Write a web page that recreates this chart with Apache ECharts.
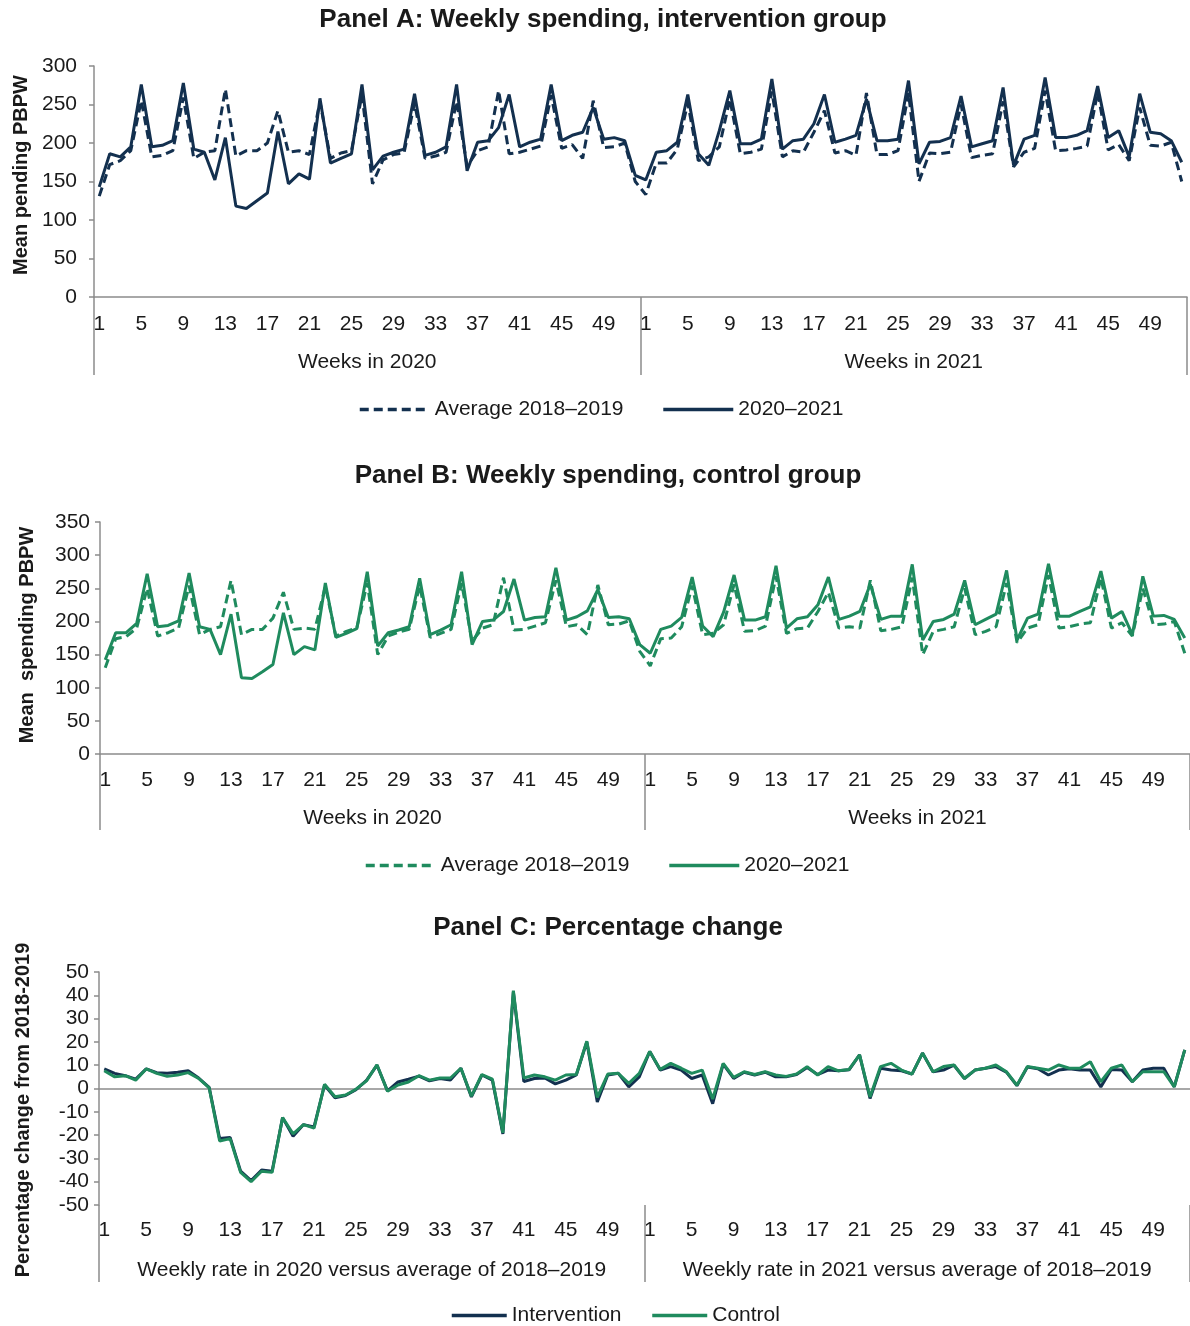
<!DOCTYPE html>
<html>
<head>
<meta charset="utf-8">
<script src="https://cdn.jsdelivr.net/npm/echarts@6/dist/echarts.min.js"></script>
<style>
html,body{margin:0;padding:0;background:#ffffff;}
#chart{width:1190px;height:1326px;}
</style>
</head>
<body>
<div id="chart"></div>
<script>
// ---------- tick labels / categories ----------
const weeksOfYear = ['1','2','3','4','5','6','7','8','9','10','11','12','13','14','15','16','17','18','19','20',
  '21','22','23','24','25','26','27','28','29','30','31','32','33','34','35','36','37','38','39','40',
  '41','42','43','44','45','46','47','48','49','50','51','52'];
const weekCategories = weeksOfYear.concat(weeksOfYear); // 2020 then 2021
const yearGroupsAB = ['Weeks in 2020', 'Weeks in 2021'];
const yearGroupsC = ['Weekly rate in 2020 versus average of 2018\u20132019', 'Weekly rate in 2021 versus average of 2018\u20132019'];

const panelTitles = ['Panel A: Weekly spending, intervention group', 'Panel B: Weekly spending, control group', 'Panel C: Percentage change'];

// ---------- Panel A: intervention group (mean spending PBPW) ----------
const avgA = [131,172,177,190,255,182,184,190,259,180,
  188,190,270,183,190,190,200,242,188,190,
  185,254,180,187,190,263,147,178,185,187,
  252,180,183,188,254,170,190,195,268,186,
  188,192,196,262,193,198,180,255,194,195,
  200,150,
  133,174,174,192,252,177,182,195,257,186,
  188,192,267,182,190,188,214,242,187,190,
  184,265,185,185,190,265,150,187,186,188,
  250,181,184,186,254,169,188,193,268,190,
  191,193,196,266,191,198,177,246,197,196,
  201,150];
const actualA = [143,186,182,195,276,195,197,203,278,192,
  188,152,207,118,115,125,135,215,147,160,
  153,258,174,180,186,276,165,183,188,192,
  264,184,188,195,276,164,201,203,220,263,
  195,201,205,276,203,210,214,246,205,207,
  203,158,
  152,188,190,201,263,186,171,216,268,199,
  199,205,283,192,203,205,225,263,201,205,
  210,257,203,203,205,281,173,201,202,207,
  261,195,199,203,272,171,205,210,285,207,
  207,210,216,274,207,216,182,264,214,212,
  203,175];

// ---------- Panel B: control group ----------
const avgB = [130,174,177,190,250,178,183,190,254,180,
  188,192,262,180,188,188,205,244,188,190,
  188,253,178,185,190,258,150,178,184,188,
  254,176,182,188,258,170,190,195,266,187,
  188,193,198,262,192,195,180,255,195,196,
  201,155,
  133,174,175,192,254,180,182,195,256,185,
  186,193,268,182,189,190,215,244,190,192,
  190,262,186,188,192,266,150,185,188,192,
  250,180,185,192,258,168,190,195,270,190,
  192,196,198,266,190,198,178,250,195,196,
  200,152];
const actualB = [142,183,183,197,272,192,194,201,273,192,
  188,150,211,115,114,124,135,213,150,162,
  157,258,176,182,189,275,163,183,187,192,
  265,180,187,195,275,165,200,202,215,264,
  202,206,207,281,202,207,216,248,206,207,
  204,165,
  152,188,193,206,267,193,177,214,270,202,
  202,207,284,190,204,207,225,267,203,208,
  215,256,203,208,208,286,172,200,203,211,
  262,195,203,211,277,172,205,211,287,208,
  208,215,222,276,205,215,180,268,208,209,
  203,175];

// ---------- Panel C: percentage change from 2018-2019 ----------
const pctIntervention = [8.4,6.5,5.5,4,8.4,6.8,6.5,7,7.6,4.5,
  0.5,-21.5,-21,-35.5,-39.5,-35,-35.5,-12.5,-20.5,-15.5,
  -16.5,1.5,-4,-3,-0.5,3.5,10,-1,2.8,4,
  5.3,3.3,4.3,3.6,8.7,-3.6,5.8,3.6,-19.5,41.5,
  3,4.3,4.5,2,3.6,5.8,20,-5.8,5.8,6.5,
  0.7,5,
  15.9,7.9,9.4,7.9,4.3,5.8,-6.5,10.5,4.3,7,
  5.8,7,5,5,6,9,6,7.9,7.6,8,
  14.4,-4.3,8.7,7.9,7.6,6.2,15.2,7.2,7.9,10,
  4.3,7.9,8.7,9.4,7,1.2,9.2,8.5,5.8,7.9,
  8.5,7.9,7.9,0.7,8.2,7.9,2.9,7.9,8.7,8.7,
  0.7,16.6];
const pctControl = [7.6,5,5.5,3.6,8.4,6.5,5.2,5.8,6.8,4.3,
  0.3,-22.5,-21.5,-36,-40,-35.5,-36,-12.5,-19.5,-15.5,
  -17,1.8,-3.5,-2.8,-0.3,3.3,10.2,-1.2,1.5,2.8,
  5.5,3.6,4.5,4.5,8.7,-3.3,6,4,-19,42,
  4.5,5.8,5,3.6,5.8,6,20.3,-3.8,6.2,6.5,
  2.2,6.5,
  15.9,8.2,10.8,8.7,6.5,7.9,-4.5,10.8,4.8,7.2,
  6,7.2,5.8,5.2,6.2,9.4,5.8,9.4,7.6,8.2,
  14.4,-3.6,9.4,10.8,7.9,6.2,15.2,7.2,9.4,10.1,
  4.3,7.9,8.7,10.1,7.2,1.4,9.4,8.7,7.9,10.1,
  8.7,8.7,11.5,2.9,8.7,10.1,2.9,7.2,7.2,7.2,
  0.7,16.6];

// ---------- styling ----------
const FONT = '"Liberation Sans", Arial, Helvetica, sans-serif';
const TEXT = '#1a1a1a';
const GRAY = '#8c8c8c';
const NAVY = '#13304f';
const GREEN = '#1f8b5e';
const DASH = [9, 5];

function weekAxis(gridIndex, showLine, margin) {
  return {
    gridIndex: gridIndex, type: 'category', data: weekCategories, boundaryGap: true, position: 'bottom',
    axisLine: { show: showLine, onZero: false, lineStyle: { color: GRAY, width: 1.5 } },
    axisTick: { show: false },
    splitLine: { show: false },
    axisLabel: { interval: function (idx) { return idx % 4 === 0; }, margin: margin, fontSize: 21, color: TEXT, fontFamily: FONT }
  };
}
function groupAxis(gridIndex, groups, tickLen, margin) {
  return {
    gridIndex: gridIndex, type: 'category', data: groups, boundaryGap: true, position: 'bottom',
    axisLine: { show: false, onZero: false },
    axisTick: { show: true, interval: 0, length: tickLen, lineStyle: { color: GRAY, width: 1.5 } },
    splitLine: { show: false },
    axisLabel: { interval: 0, margin: margin, fontSize: 21, color: TEXT, fontFamily: FONT }
  };
}
function valueAxis(gridIndex, min, max, interval, name, nameGap, labelMargin, namePadding) {
  return {
    gridIndex: gridIndex, type: 'value', min: min, max: max, interval: interval,
    axisLine: { show: true, lineStyle: { color: GRAY, width: 1.5 } },
    axisTick: { show: true, length: 5, lineStyle: { color: GRAY, width: 1.5 } },
    splitLine: { show: false },
    axisLabel: { margin: labelMargin, fontSize: 21, color: TEXT, fontFamily: FONT },
    name: name, nameLocation: 'middle', nameGap: nameGap,
    nameTextStyle: { fontSize: 20, fontWeight: 'bold', color: TEXT, fontFamily: FONT, padding: namePadding }
  };
}
function lineSeries(name, data, xi, yi, color, dashed, z) {
  return {
    name: name, type: 'line', xAxisIndex: xi, yAxisIndex: yi, data: data,
    symbol: 'none', smooth: false, z: z,
    itemStyle: { color: color },
    lineStyle: { color: color, width: 3, type: dashed ? DASH : 'solid' },
    emphasis: { disabled: true }
  };
}
const titleStyle = { fontSize: 26, fontWeight: 'bold', color: TEXT, fontFamily: FONT };
const legendText = { fontSize: 21, color: TEXT, fontFamily: FONT };
const legendBase = { padding: 0, itemHeight: 14, selectedMode: false, textStyle: legendText,
  itemStyle: { opacity: 0, borderWidth: 0 }, lineStyle: { width: 3.5 } };

const option = {
  animation: false,
  backgroundColor: '#ffffff',
  title: [
    { text: panelTitles[0], left: 603, top: 7, textAlign: 'center', padding: 0, textStyle: titleStyle },
    { text: panelTitles[1], left: 608, top: 463, textAlign: 'center', padding: 0, textStyle: titleStyle },
    { text: panelTitles[2], left: 608, top: 915, textAlign: 'center', padding: 0, textStyle: titleStyle }
  ],
  grid: [
    { left: 94, top: 66, width: 1093, height: 231 },
    { left: 100, top: 522, width: 1092, height: 232 },
    { left: 99, top: 972, width: 1097, height: 233 }
  ],
  legend: [
    Object.assign({}, legendBase, { data: ['Average 2018\u20132019', '2020\u20132021'], left: 358, top: 399,
      itemWidth: 70, itemGap: 38 }),
    Object.assign({}, legendBase, { data: ['Average 2018\u20132019 ', '2020\u20132021 '], left: 364, top: 855,
      itemWidth: 70, itemGap: 38, formatter: function (n) { return n.trim(); } }),
    Object.assign({}, legendBase, { data: ['Intervention', 'Control'], left: 450, top: 1305,
      itemWidth: 55, itemGap: 29 })
  ],
  xAxis: [
    weekAxis(0, true, 17),
    groupAxis(0, yearGroupsAB, 78, 55),
    weekAxis(1, true, 16),
    groupAxis(1, yearGroupsAB, 76, 54),
    weekAxis(2, false, 15),
    groupAxis(2, yearGroupsC, 77, 55),
    { gridIndex: 2, type: 'category', data: weekCategories, boundaryGap: true, position: 'bottom',
      axisLine: { show: true, onZero: true, lineStyle: { color: GRAY, width: 1.5 } },
      axisTick: { show: false }, axisLabel: { show: false }, splitLine: { show: false } }
  ],
  yAxis: [
    valueAxis(0, 0, 300, 50, 'Mean pending PBPW', 61, 17, [0, 0, 0, 13]),
    valueAxis(1, 0, 350, 50, 'Mean  spending PBPW', 63, 10, [0, 0, 0, 6]),
    valueAxis(2, -50, 50, 10, 'Percentage change from 2018-2019', 66, 10, [0, 43, 0, 0])
  ],
  series: [
    lineSeries('Average 2018\u20132019', avgA, 0, 0, NAVY, true, 2),
    lineSeries('2020\u20132021', actualA, 0, 0, NAVY, false, 3),
    lineSeries('Average 2018\u20132019 ', avgB, 2, 1, GREEN, true, 2),
    lineSeries('2020\u20132021 ', actualB, 2, 1, GREEN, false, 3),
    lineSeries('Intervention', pctIntervention, 4, 2, NAVY, false, 2),
    lineSeries('Control', pctControl, 4, 2, GREEN, false, 3)
  ]
};

const chart = echarts.init(document.getElementById('chart'), null, { renderer: 'canvas' });
chart.setOption(option);
</script>
</body>
</html>
